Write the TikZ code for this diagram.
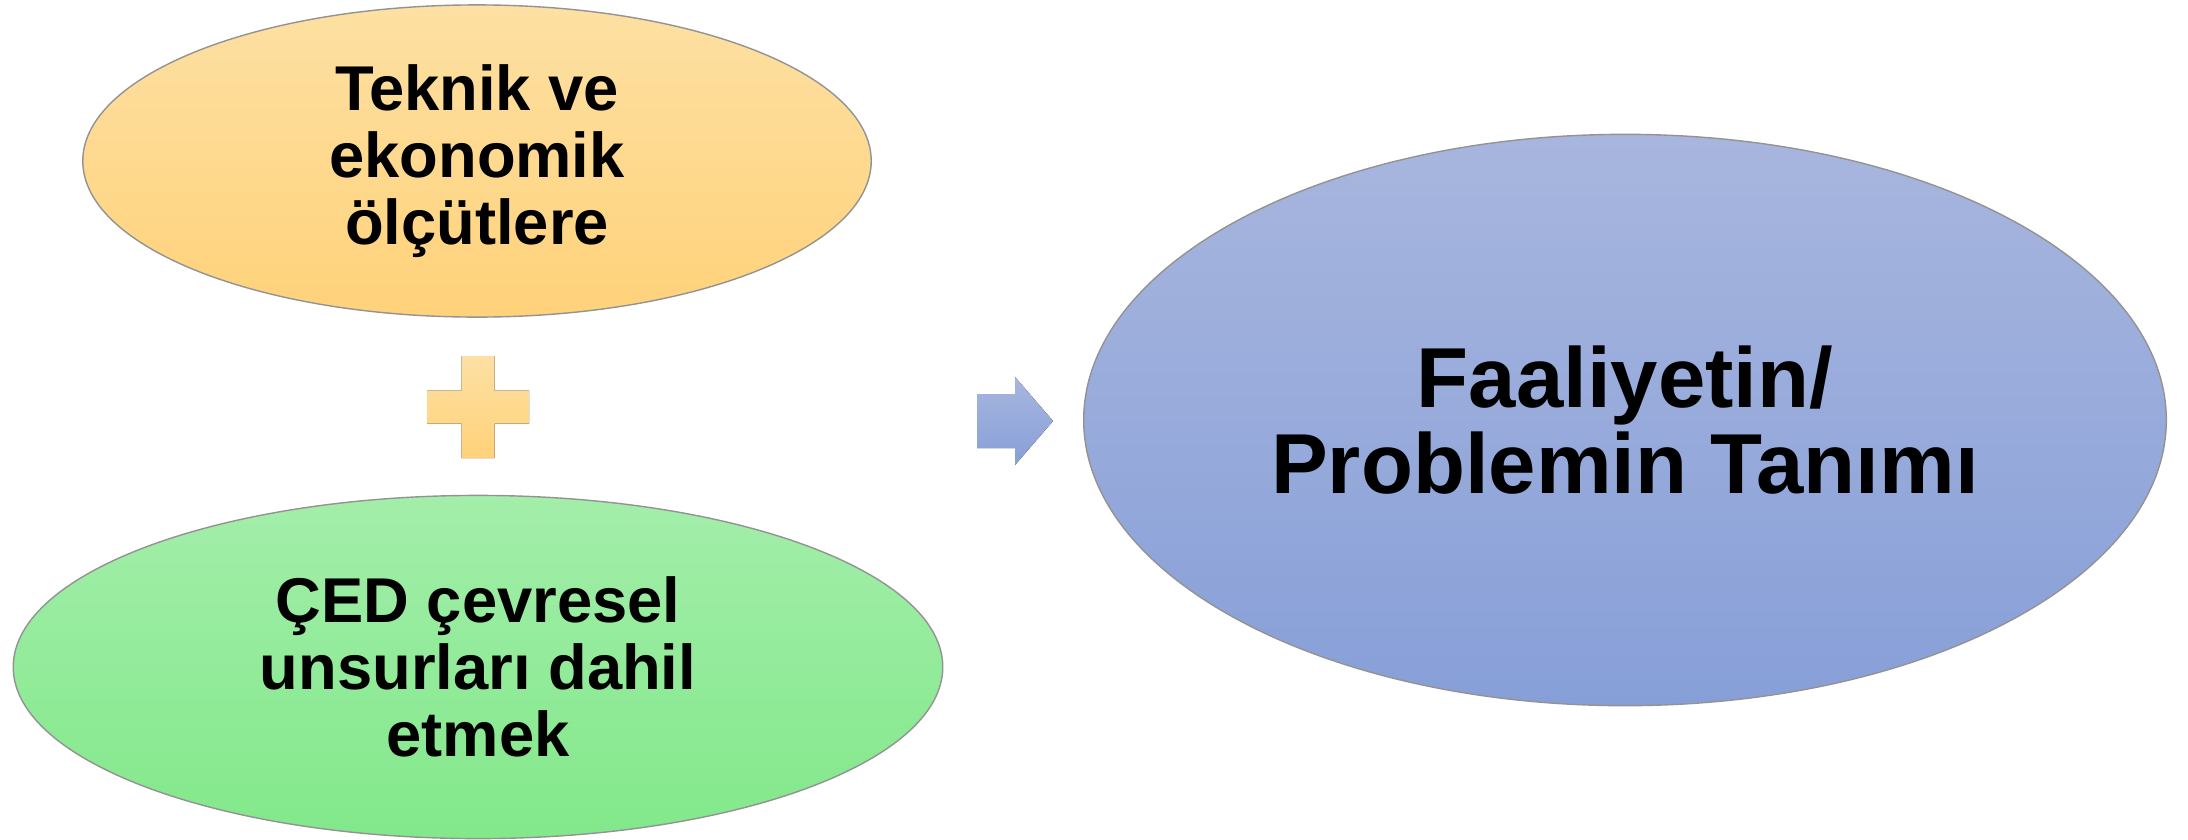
\documentclass[tikz,border=0pt]{standalone}
\usepackage{fontspec}
\setmainfont{Liberation Sans}
\usetikzlibrary{shapes.geometric}

\definecolor{teknikTop}{RGB}{253,224,163}
\definecolor{teknikBot}{RGB}{255,210,122}
\definecolor{cedTop}{RGB}{163,238,170}
\definecolor{cedBot}{RGB}{130,232,138}
\definecolor{tanimTop}{RGB}{168,182,222}
\definecolor{tanimBot}{RGB}{135,159,216}

\begin{document}
\begin{tikzpicture}[x=0.01cm,y=-0.01cm,
    oval/.style={ellipse,draw=gray!85,line width=0.4pt,inner sep=0pt,align=center}]
    \useasboundingbox (0,0) rectangle (2188,839);

    \node[oval,minimum width=7.88cm,minimum height=3.12cm,
      top color=teknikTop,bottom color=teknikBot,
      font=\bfseries\fontsize{18}{19}\selectfont]
      (teknik) at (477,161) {Teknik ve\\ekonomik\\ölçütlere};

    \node[oval,minimum width=9.29cm,minimum height=3.43cm,
      top color=cedTop,bottom color=cedBot,
      font=\bfseries\fontsize{18}{19}\selectfont]
      (ced) at (478,667) {ÇED çevresel\\unsurları dahil\\etmek};

    \node[oval,minimum width=10.82cm,minimum height=5.71cm,
      top color=tanimTop,bottom color=tanimBot,
      font=\bfseries\fontsize{24.2}{24.6}\selectfont]
      (tanim) at (1625,420) {Faaliyetin/\\Problemin Tanımı};

    % plus sign
    \fill[top color=teknikTop,bottom color=teknikBot]
      (461.5,356) -- (494.5,356) -- (494.5,390.5) -- (529,390.5) -- (529,423.5)
      -- (494.5,423.5) -- (494.5,458) -- (461.5,458) -- (461.5,423.5)
      -- (427,423.5) -- (427,390.5) -- (461.5,390.5) -- cycle;

    % block arrow
    \fill[top color=tanimTop,bottom color=tanimBot]
      (977,394) -- (1015,394) -- (1015,377) -- (1053,421) -- (1015,465)
      -- (1015,448) -- (977,448) -- cycle;
\end{tikzpicture}
\end{document}
